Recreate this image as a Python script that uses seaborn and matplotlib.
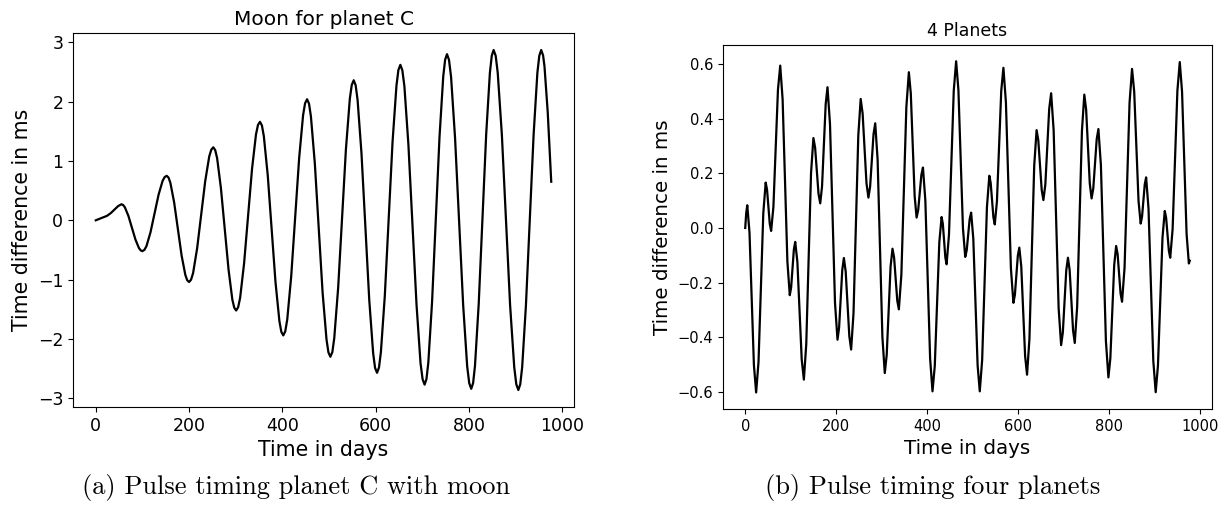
import matplotlib
matplotlib.use("Agg")
import matplotlib.pyplot as plt
import seaborn as sns
import pandas as pd

# ---- Panel (a): Moon for planet C ----
moon_days = [0, 8, 16, 24, 32, 40, 48, 55,
             58.75, 62.5, 70, 77.5, 85, 92.5, 96.25, 100,
             104.3, 108.7, 117.3, 126, 134.7, 143.3, 147.7, 152,
             156, 160, 168, 176, 184, 192, 196, 200,
             204.3, 208.7, 217.3, 226, 234.7, 243.3, 247.7, 252,
             256.1, 260.2, 268.3, 276.5, 284.7, 292.8, 296.9, 301,
             305.25, 309.5, 318, 326.5, 335, 343.5, 347.75, 352,
             356.2, 360.3, 368.7, 377, 385.3, 393.7, 397.8, 402,
             406.25, 410.5, 419, 427.5, 436, 444.5, 448.75, 453,
             457.2, 461.3, 469.7, 478, 486.3, 494.7, 498.8, 503,
             507.2, 511.3, 519.7, 528, 536.3, 544.7, 548.8, 553,
             557.2, 561.3, 569.7, 578, 586.3, 594.7, 598.8, 603,
             607.2, 611.3, 619.7, 628, 636.3, 644.7, 648.8, 653,
             657.3, 661.7, 670.3, 679, 687.7, 696.3, 700.7, 705,
             709, 713, 721, 729, 737, 745, 749, 753,
             757.3, 761.7, 770.3, 779, 787.7, 796.3, 800.7, 805,
             809, 813, 821, 829, 837, 845, 849, 853,
             857.4, 861.8, 870.7, 879.5, 888.3, 897.2, 901.6, 906,
             910.1, 914.2, 922.3, 930.5, 938.7, 946.8, 950.9, 955,
             959, 962, 969, 976.5]
moon_ms = [0.0, 0.025, 0.05, 0.075, 0.12, 0.18, 0.24, 0.27,
           0.257, 0.217, 0.073, -0.125, -0.323, -0.467, -0.507, -0.52,
           -0.498, -0.435, -0.203, 0.115, 0.433, 0.665, 0.728, 0.75,
           0.72, 0.63, 0.303, -0.145, -0.593, -0.92, -1.01, -1.04,
           -1.001, -0.888, -0.473, 0.095, 0.663, 1.078, 1.191, 1.23,
           1.183, 1.046, 0.543, -0.145, -0.833, -1.336, -1.473, -1.52,
           -1.466, -1.307, -0.725, 0.07, 0.865, 1.447, 1.606, 1.66,
           1.599, 1.419, 0.76, -0.14, -1.04, -1.699, -1.879, -1.94,
           -1.872, -1.673, -0.945, 0.05, 1.045, 1.773, 1.972, 2.04,
           1.966, 1.749, 0.955, -0.13, -1.215, -2.009, -2.226, -2.3,
           -2.221, -1.988, -1.135, 0.03, 1.195, 2.048, 2.281, 2.36,
           2.276, 2.03, 1.128, -0.105, -1.338, -2.24, -2.486, -2.57,
           -2.482, -2.222, -1.273, 0.025, 1.323, 2.272, 2.532, 2.62,
           2.528, 2.259, 1.273, -0.075, -1.423, -2.409, -2.678, -2.77,
           -2.675, -2.397, -1.378, 0.015, 1.408, 2.427, 2.705, 2.8,
           2.704, 2.422, 1.39, -0.02, -1.43, -2.462, -2.744, -2.84,
           -2.743, -2.457, -1.413, 0.015, 1.443, 2.487, 2.773, 2.87,
           2.773, 2.486, 1.438, 0.005, -1.428, -2.476, -2.763, -2.86,
           -2.763, -2.476, -1.428, 0.005, 1.438, 2.486, 2.773, 2.87,
           2.78, 2.6, 1.82, 0.65]

# ---- Panel (b): 4 Planets ----
planets_days = [0, 2.2, 4.5, 9.4, 14.25, 19.1, 24, 29.25, 34.5, 39.75, 45,
                48, 51, 54, 57, 62, 67, 72, 77, 82.25, 87.5, 92.75, 98,
                101, 104, 107, 110, 114.75, 119.5, 124.25, 129, 134.25, 139.5, 144.75, 150,
                153.75, 157.5, 161.25, 165, 169, 173, 177, 181, 186.5, 192, 197.5, 203,
                206.5, 210, 213.5, 217, 221, 225, 229, 233, 238.25, 243.5, 248.75, 254,
                258.25, 262.5, 266.75, 271, 274.75, 278.5, 282.25, 286, 291.25, 296.5, 301.75, 307,
                311.25, 315.5, 319.75, 324, 327.5, 331, 334.5, 338, 343.5, 349, 354.5, 360,
                364.25, 368.5, 372.75, 377, 380.5, 384, 387.5, 391, 396.25, 401.5, 406.75, 412,
                417, 422, 427, 432, 434.75, 437.5, 440.25, 443, 448.25, 453.5, 458.75, 464,
                469, 474, 479, 484, 487.25, 490.5, 493.75, 497, 501.75, 506.5, 511.25, 516,
                521.25, 526.5, 531.75, 537, 540, 543, 546, 549, 553.75, 558.5, 563.25, 568,
                573.5, 579, 584.5, 590, 593.25, 596.5, 599.75, 603, 607.25, 611.5, 615.75, 620,
                625.25, 630.5, 635.75, 641, 644.75, 648.5, 652.25, 656, 660.25, 664.5, 668.75, 673,
                678.5, 684, 689.5, 695, 698.75, 702.5, 706.25, 710, 713.75, 717.5, 721.25, 725,
                730.25, 735.5, 740.75, 746, 750, 754, 758, 762, 765.75, 769.5, 773.25, 777,
                782.5, 788, 793.5, 799, 803.25, 807.5, 811.75, 816, 819.25, 822.5, 825.75, 829,
                834.5, 840, 845.5, 851, 855.75, 860.5, 865.25, 870, 873, 876, 879, 882,
                887.25, 892.5, 897.75, 903, 908, 913, 918, 923, 926, 929, 932, 935,
                940.25, 945.5, 950.75, 956, 961, 966, 971, 976, 978]
planets_ms = [0.0, 0.055, 0.083, -0.017, -0.26, -0.502, -0.602, -0.49, -0.218, 0.054, 0.166,
              0.14, 0.078, 0.015, -0.011, 0.077, 0.292, 0.506, 0.594, 0.471, 0.174, -0.123, -0.246,
              -0.218, -0.149, -0.079, -0.051, -0.125, -0.303, -0.481, -0.555, -0.426, -0.113, 0.2, 0.329,
              0.294, 0.21, 0.125, 0.09, 0.152, 0.303, 0.453, 0.515, 0.38, 0.053, -0.274, -0.409,
              -0.365, -0.26, -0.154, -0.11, -0.159, -0.278, -0.396, -0.445, -0.311, 0.014, 0.338, 0.472,
              0.419, 0.292, 0.164, 0.111, 0.151, 0.247, 0.343, 0.383, 0.25, -0.074, -0.398, -0.531,
              -0.465, -0.304, -0.142, -0.076, -0.108, -0.187, -0.266, -0.298, -0.171, 0.136, 0.443, 0.57,
              0.492, 0.304, 0.116, 0.038, 0.065, 0.13, 0.194, 0.221, 0.101, -0.189, -0.478, -0.598,
              -0.505, -0.279, -0.053, 0.04, 0.015, -0.047, -0.108, -0.133, -0.025, 0.239, 0.502, 0.61,
              0.505, 0.252, -0.001, -0.106, -0.082, -0.025, 0.032, 0.056, -0.039, -0.271, -0.503, -0.598,
              -0.483, -0.204, 0.076, 0.191, 0.165, 0.102, 0.039, 0.013, 0.097, 0.3, 0.502, 0.586,
              0.46, 0.156, -0.148, -0.274, -0.245, -0.173, -0.101, -0.072, -0.14, -0.305, -0.469, -0.537,
              -0.406, -0.09, 0.227, 0.358, 0.321, 0.23, 0.139, 0.102, 0.159, 0.298, 0.436, 0.493,
              0.358, 0.032, -0.294, -0.429, -0.382, -0.269, -0.156, -0.109, -0.155, -0.265, -0.375, -0.421,
              -0.288, 0.034, 0.355, 0.488, 0.433, 0.298, 0.163, 0.108, 0.145, 0.235, 0.325, 0.362,
              0.229, -0.093, -0.414, -0.547, -0.477, -0.307, -0.136, -0.066, -0.096, -0.168, -0.24, -0.27,
              -0.146, 0.156, 0.458, 0.582, 0.499, 0.299, 0.099, 0.016, 0.041, 0.101, 0.16, 0.185,
              0.07, -0.208, -0.486, -0.601, -0.504, -0.27, -0.035, 0.062, 0.037, -0.024, -0.084, -0.109,
              -0.004, 0.249, 0.502, 0.607, 0.499, 0.239, -0.022, -0.13, -0.12]

titles = ["Moon for planet C", "4 Planets"]
xlabel = "Time in days"
ylabel = "Time difference in ms"
captions = ["(a) Pulse timing planet C with moon", "(b) Pulse timing four planets"]

W, H = 1226, 512
fig = plt.figure(figsize=(W / 100, H / 100), dpi=100)

def frac(l, t, r, b):
    return [l / W, 1 - b / H, (r - l) / W, (b - t) / H]

ax1 = fig.add_axes(frac(73, 33, 574, 407))
ax2 = fig.add_axes(frac(723, 44.7, 1212, 409))

df1 = pd.DataFrame({"day": moon_days, "ms": moon_ms})
df2 = pd.DataFrame({"day": planets_days, "ms": planets_ms})

sns.lineplot(data=df1, x="day", y="ms", ax=ax1, color="black", linewidth=1.6,
             estimator=None, sort=False)
sns.lineplot(data=df2, x="day", y="ms", ax=ax2, color="black", linewidth=1.6,
             estimator=None, sort=False)

ax1.set_title(titles[0], fontsize=14.5)
ax1.set_xlabel(xlabel, fontsize=14.8)
ax1.set_ylabel(ylabel, fontsize=14.8)
ax1.tick_params(labelsize=12.5)

ax2.set_title(titles[1], fontsize=12.5)
ax2.set_xlabel(xlabel, fontsize=14.3)
ax2.set_ylabel(ylabel, fontsize=14.3)
ax2.tick_params(labelsize=10.5)

fig.text(296 / W, 1 - 494 / H, captions[0], ha="center", va="baseline",
         fontsize=19, family="cmr10")
fig.text(933 / W, 1 - 494 / H, captions[1], ha="center", va="baseline",
         fontsize=19, family="cmr10")

fig.savefig("out.png", dpi=100)
